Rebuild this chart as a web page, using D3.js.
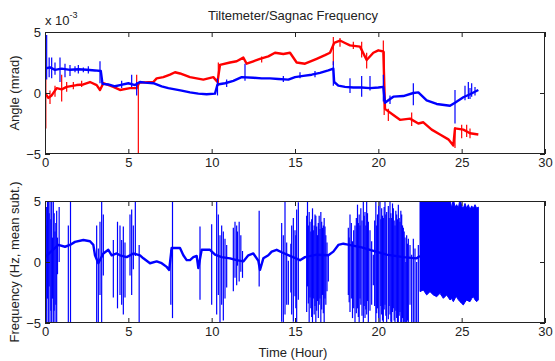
<!DOCTYPE html>
<html>
<head>
<meta charset="utf-8">
<script src="https://cdnjs.cloudflare.com/ajax/libs/d3/7.8.5/d3.min.js"></script>
<style>
  body { margin: 0; background: #fff; }
  svg { font-family: "Liberation Sans", Arial, sans-serif; }
</style>
</head>
<body>
<div id="chart"></div>
<script>
// tick values
const xTicks = [0, 5, 10, 15, 20, 25, 30];
const yTicks = [-5, 0, 5];

// top panel, angle in units of 1e-3 mrad: [hour, value]
const tiltBlue = [[0,2.0],[0.3,2.1],[0.6,1.9],[1.0,2.0],[1.5,1.9],[2.0,1.95],[2.5,1.9],[3.0,1.85],[3.35,1.8],[3.45,0.75],
  [3.8,0.7],[4.2,0.55],[4.5,0.65],[5.0,0.8],[5.4,0.65],[5.7,0.9],[6.0,0.85],[6.5,0.8],[7.0,0.55],[7.4,0.4],[7.8,0.3],
  [8.2,0.2],[8.7,0.05],[9.2,-0.05],[9.7,-0.1],[10.2,-0.05],[10.35,0.7],[10.8,0.8],[11.3,1.0],[11.8,1.3],[12.5,1.25],
  [13.0,1.2],[13.5,1.2],[14.0,1.15],[14.6,1.1],[15.0,1.3],[15.5,1.4],[16.0,1.5],[16.5,1.65],[17.0,1.85],[17.3,2.0],
  [17.35,0.9],[17.6,0.6],[18.0,0.5],[18.5,0.45],[19.0,0.45],[19.5,0.4],[20.0,0.45],[20.3,0.5],[20.4,-0.8],[20.6,-0.6],
  [20.9,-0.3],[21.5,-0.25],[22.1,0.0],[22.4,0.05],[22.9,-0.6],[23.5,-0.9],[24.3,-1.05],[24.6,-0.8],[25.1,-0.35],
  [25.5,-0.1],[26.0,0.25]];
// [hour, low, high]
const tiltBlueSpikes = [[0.1,1.1,4.75],[0.25,1.3,2.9],[0.4,1.2,2.9],[0.6,1.5,2.5],[0.9,0.9,2.9],[1.2,1.3,2.4],[1.5,1.4,2.3],
  [1.8,1.7,2.2],[2.0,1.6,2.3],[2.3,1.7,2.1],[2.6,1.6,2.2],[3.3,0.8,2.6],[4.6,0.4,1.0],[5.2,0.5,1.5],[5.5,-0.2,0.9],
  [10.35,-0.2,1.2],[10.9,0.5,1.1],[12.0,1.0,2.4],[14.3,0.9,1.4],[15.3,1.2,1.7],[16.2,1.3,1.8],
  [17.3,0.6,2.6],[18.3,0.0,1.2],[19.0,-0.3,1.4],[19.5,0.2,1.4],[20.3,-0.7,1.5],[20.7,-0.9,-0.2],[22.1,-1.0,0.8],
  [24.6,-2.5,0.25],[25.2,-0.6,0.6],[25.4,-0.5,0.9],[25.5,-0.5,0.4],[25.6,-0.3,0.8],[25.8,-0.2,0.5]];

const tiltRed = [[0,0.0],[0.2,-0.4],[0.4,-0.2],[0.7,0.4],[1.0,0.3],[1.3,0.5],[1.9,0.65],[2.3,0.7],[2.7,0.9],[3.1,0.65],
  [3.3,0.25],[3.5,0.8],[4.1,0.5],[4.5,0.25],[5.1,0.4],[5.5,0.4],[5.65,0.85],[6.5,0.9],[6.7,1.2],[7.1,1.3],[7.5,1.5],
  [7.8,1.7],[8.1,1.6],[8.7,1.3],[9.1,1.2],[9.5,1.1],[10.1,1.3],[10.35,0.9],[10.5,2.3],[11.1,2.5],[11.5,2.6],[11.9,2.9],
  [12.1,2.4],[12.5,2.6],[12.9,2.8],[13.4,3.0],[13.8,3.3],[14.3,3.2],[14.7,3.3],[15.1,2.5],[15.6,2.4],[16.3,2.8],
  [16.8,3.1],[17.1,3.3],[17.35,4.1],[17.7,4.3],[18.0,4.1],[18.3,3.9],[18.9,3.8],[19.3,2.7],[19.7,3.3],[20.0,3.5],
  [20.3,3.4],[20.4,-1.3],[20.9,-1.8],[21.3,-2.2],[21.9,-2.1],[22.4,-2.5],[22.7,-2.4],[23.2,-3.0],[23.7,-3.4],
  [24.2,-3.8],[24.5,-4.3],[24.6,-2.9],[25.1,-3.0],[25.5,-3.3],[26.0,-3.4]];
const tiltRedSpikes = [[0.05,-2.9,2.0],[0.3,-0.9,0.2],[0.6,-0.3,0.6],[1.0,-0.7,1.5],[1.3,0.1,0.9],[1.7,0.3,0.9],
  [2.2,0.5,1.0],[5.5,0.3,1.5],[5.6,-5.2,0.6],[10.4,0.6,2.5],[13.0,2.5,3.0],[17.3,2.3,4.6],[17.7,3.8,4.5],[18.5,3.6,4.2],
  [19.0,2.9,4.2],[19.3,2.0,3.3],[20.3,3.4,4.3],[20.35,-1.8,3.4],[20.6,-2.3,-1.3],[22.0,-2.7,-1.6],[24.6,-4.5,-2.8],
  [25.0,-3.7,-2.6],[25.3,-3.6,-2.6],[25.5,-3.7,-2.9]];

// bottom panel, frequency in Hz (mean subtracted)
const freqBase = [[0,0.4],[0.8,1.4],[1.2,1.25],[1.5,1.4],[1.8,1.65],[2.3,1.8],[2.7,1.7],[2.9,1.4],[3.0,0.55],[3.2,-0.1],
  [3.5,0.7],[3.8,1.0],[4.0,0.55],[4.3,0.7],[4.5,0.55],[4.9,0.4],[5.3,0.7],[5.7,0.55],[5.9,0.3],[6.3,-0.1],[6.7,0.05],
  [7.0,-0.1],[7.3,-0.4],[7.45,-0.65],[7.6,1.15],[8.1,1.15],[8.3,0.55],[8.5,0.15],[8.7,0.15],[8.9,0.4],[9.1,0.5],
  [9.2,-0.5],[9.4,1.0],[9.9,1.0],[10.2,0.6],[10.6,0.4],[11.1,0.3],[11.5,0.15],[11.9,0.05],[12.2,0.55],[12.5,0.7],
  [12.8,0.1],[12.9,-0.65],[13.1,0.3],[13.4,0.55],[13.6,0.85],[13.9,1.0],[14.2,0.8],[14.7,0.5],[15.3,0.15],[15.6,0.4],
  [16.3,0.6],[17.0,0.55],[17.3,0.85],[17.6,1.4],[17.9,1.5],[18.1,1.45],[19.0,1.2],[19.5,1.0],[20.5,0.6],[21.5,0.4],
  [22.3,0.3],[22.5,0.5]];
const freqSpikes = [
  [0.05,-4,3],[0.1,-5.2,4.5],[0.15,-3,5.2],[0.2,-5.2,5.2],[0.25,-2,4],[0.3,-5.2,5.2],[0.35,-4,3.5],[0.4,-5.2,5.2],
  [0.45,-3,2],[0.5,-5.2,5.2],[0.55,-4,4],[0.6,-5.2,2.5],[0.65,-3.5,3.2],[0.7,-5.2,4.2],[0.75,-1,2],[0.85,0,4.5],
  [1.4,-5.2,3],[1.53,-5.2,5.2],
  [3.1,-5.2,3],[3.2,-5.2,1.1],[3.3,-2.7,3.3],[3.4,-5.2,5.2],[3.5,-1.1,3.9],
  [4.1,-2.9,1.8],[4.35,-3.8,3.3],[4.5,-2.7,3.0],[4.6,-3.5,1.8],[4.7,-4.3,2.9],[4.8,-2.9,1.6],[5.1,-1.1,3.9],
  [5.2,-2.7,4.3],[5.3,-0.6,3.0],[5.42,0.5,5.2],[5.65,-5.2,1.4],
  [7.55,-3.5,1],[7.65,-4.6,5.2],
  [9.3,-3.1,2.9],[10.0,-3.5,3.1],
  [10.3,-4.3,5.2],[10.4,-2.7,3.9],[10.5,-5.2,2.2],[10.6,-3.5,3.0],[10.7,-4.8,2.5],[10.8,-3.0,1.9],[10.9,-2.1,1.4],
  [11.3,-2.4,2.8],[11.4,-1.3,3.3],[11.5,-1.9,3.0],[11.55,-0.3,2.5],[11.65,-1.6,3.3],[11.75,-0.8,2.2],[11.85,-1.3,0.9],
  [12.85,-2.0,4.2],
  [14.2,-4.9,3.2],[14.3,-5.2,2.2],[14.4,-4.3,5.2],[14.5,-3.5,1.6],[14.6,-3.5,0.1],[14.75,-2.5,1.5],[14.8,-4.3,3.0],
  [14.9,-4.9,3.6],[15.0,-2.8,2.6],[15.05,-3.8,2.2],[15.1,-5.2,4.3],[15.2,-3.1,4.9],
  [15.7,-4.1,3.8],[15.75,-2,5.2],[15.8,-3.4,3.0],[15.85,-5.2,4.1],[15.9,-2.9,3.3],[15.95,-3.8,2.5],[16.0,-4.5,3.5],
  [16.05,-5.2,4.4],[16.1,-3.0,2.6],[16.15,-4.3,3.0],[16.2,-3.6,3.9],[16.25,-5.2,3.8],[16.3,-4.0,2.9],[16.35,-3.2,2.2],
  [16.4,-4.6,3.2],[16.45,-3.5,3.8],[16.5,-3.0,2.7],[16.55,-5.2,4.1],[16.6,-3.9,3.3],[16.65,-2.7,2.8],[16.7,-4.2,3.0],
  [16.75,-5.2,3.6],[16.8,-3.0,2.9],[16.85,-3.5,2.2],[16.92,-2.4,1.6],[17.0,-1.6,0.6],
  [18.2,-2.7,2.8],[18.25,-3.3,2.0],[18.3,-4.1,3.9],[18.38,-3.0,3.2],[18.45,-4.6,1.7],[18.52,-3.8,2.6],[18.6,-5.2,3.0],
  [18.68,-4.2,3.6],[18.75,-3.8,4.7],[18.8,-4.5,3.2],[18.85,-5.2,3.9],[18.9,-3.0,3.0],[18.95,-3.5,4.4],[19.02,-4.4,3.4],
  [19.1,-5.2,5.2],[19.15,-3.6,3.8],[19.2,-4.6,4.1],[19.25,-3.9,3.0],[19.3,-4.3,5.2],[19.35,-3.2,4.0],[19.4,-5.2,3.3],
  [19.5,-4.0,2.6],[19.6,-3.5,1.7],[19.7,-1.9,0.6],[19.78,-3.6,3.4],[19.85,-5.2,5.2],[19.9,-4.2,3.0],[19.95,-3.8,3.9],
  [20.02,-4.6,4.6],[20.1,-5.2,5.2],[20.15,-3.6,3.5],[20.2,-4.3,4.4],[20.25,-4.8,3.8],[20.3,-5.2,3.6],[20.35,-3.9,4.5],
  [20.4,-3.5,5.2],[20.45,-4.4,3.9],[20.5,-5.2,4.1],[20.6,-4.7,4.6],[20.65,-3.6,3.6],[20.7,-4.3,5.2],[20.75,-4.9,4.0],
  [20.8,-5.2,3.6],[20.85,-4.1,4.8],[20.9,-3.8,4.4],[20.95,-4.8,3.4],[21.0,-5.2,3.0],[21.05,-4.0,4.2],[21.1,-4.6,3.9],
  [21.15,-5.0,3.5],[21.2,-5.2,4.7],[21.25,-4.4,3.6],[21.3,-4.1,3.3],[21.35,-5.0,4.2],[21.4,-5.2,3.9],[21.45,-4.6,3.0],
  [21.5,-5.2,2.8],[21.55,-4.9,2.5],[21.6,-5.2,2.0],[21.65,-5.2,0.0],[21.7,-5.2,2.2],[21.75,-4.8,1.5],[21.8,-5.2,1.9],
  [21.9,-3.5,1.4],[22.0,-5.2,0.6],[22.1,-5.2,1.9],[22.2,-5.2,1.1],[22.3,-5.2,0.0],[22.4,-5.2,1.4]];
// dense oscillation at the end: [hour, low, high]
const freqBand = [[22.5,-2.43,5.2],[22.7,-2.29,5.2],[22.9,-2.7,5.2],[23.1,-2.43,5.2],[23.3,-2.7,5.2],[23.5,-2.84,5.2],
  [23.7,-2.57,5.2],[23.9,-2.98,5.2],[24.1,-2.7,5.2],[24.3,-3.11,5.2],[24.4,-3.0,4.4],[24.5,-3.25,5.2],[24.6,-3.0,4.5],
  [24.7,-2.84,4.7],[24.8,-3.1,4.4],[24.9,-3.25,5.2],[25.0,-3.4,4.6],[25.1,-3.52,4.4],[25.2,-3.3,4.8],[25.3,-3.11,4.4],
  [25.4,-3.2,4.7],[25.5,-3.25,4.3],[25.6,-3.0,4.6],[25.7,-2.84,4.4],[25.8,-3.1,4.7],[25.9,-3.25,4.4],[26.0,-3.11,4.5]];

const W = 555, H = 361;
const left = 45, right = 545;
const fs = '13px';

const svg = d3.select('#chart').append('svg')
  .attr('width', W).attr('height', H);

const x = d3.scaleLinear().domain([0, 30]).range([left, right]);

function panel(id, top, bottom) {
  const y = d3.scaleLinear().domain([-5, 5]).range([bottom, top]);
  svg.append('clipPath').attr('id', id)
    .append('rect').attr('x', left).attr('y', top)
    .attr('width', right - left).attr('height', bottom - top);
  const g = svg.append('g').attr('clip-path', `url(#${id})`);
  return { y, g, top, bottom };
}

function frame(p) {
  const tick = 5;
  const ax = (gen, tx, ty, labels) => {
    const a = svg.append('g').attr('transform', `translate(${tx},${ty})`)
      .call(gen.tickSize(-tick).tickSizeOuter(0).tickPadding(4));
    a.select('.domain').remove();
    a.selectAll('line').attr('stroke', '#222');
    a.selectAll('text').style('font-size', fs).attr('fill', '#222');
    if (!labels) a.selectAll('text').remove();
  };
  ax(d3.axisBottom(x).tickValues(xTicks), 0, p.bottom, true);
  ax(d3.axisTop(x).tickValues(xTicks), 0, p.top, false);
  ax(d3.axisLeft(p.y).tickValues(yTicks), left, 0, true);
  ax(d3.axisRight(p.y).tickValues(yTicks), right, 0, false);
  svg.append('rect')
    .attr('x', left + 0.5).attr('y', p.top + 0.5)
    .attr('width', right - left - 1).attr('height', p.bottom - p.top - 1)
    .attr('fill', 'none').attr('stroke', '#222');
}

function spikes(p, data, color, w) {
  p.g.selectAll(null).data(data).enter().append('line')
    .attr('x1', d => x(d[0])).attr('x2', d => x(d[0]))
    .attr('y1', d => p.y(d[1])).attr('y2', d => p.y(d[2]))
    .attr('stroke', color).attr('stroke-width', w);
}

function trace(p, data, color, w) {
  const line = d3.line().x(d => x(d[0])).y(d => p.y(d[1]));
  p.g.append('path').datum(data)
    .attr('d', line).attr('fill', 'none')
    .attr('stroke', color).attr('stroke-width', w)
    .attr('stroke-linejoin', 'round');
}

// top panel
const p1 = panel('clip1', 32, 154);
trace(p1, tiltRed, '#ff0000', 2.4);
spikes(p1, tiltRedSpikes, '#ff0000', 1.2);
trace(p1, tiltBlue, '#0000ff', 2.4);
spikes(p1, tiltBlueSpikes, '#0000ff', 1.2);
frame(p1);

// bottom panel
const p2 = panel('clip2', 201, 323);
const band = d3.area().x(d => x(d[0])).y0(d => p2.y(d[1])).y1(d => p2.y(d[2]));
p2.g.append('path').datum(freqBand).attr('d', band)
  .attr('fill', '#0000ff').attr('stroke', '#0000ff').attr('stroke-width', 1);
spikes(p2, freqSpikes, '#0000ff', 1.2);
trace(p2, freqBase, '#0000ff', 2.4);
frame(p2);

// texts
svg.append('text').attr('x', 293).attr('y', 20).attr('text-anchor', 'middle')
  .style('font-size', fs).attr('fill', '#222').text('Tiltemeter/Sagnac Frequency');

const mult = svg.append('text').attr('x', 45).attr('y', 25)
  .style('font-size', fs).attr('fill', '#222');
mult.append('tspan').text('x 10');
mult.append('tspan').attr('dy', -7).style('font-size', '9px').text('-3');

svg.append('text').attr('transform', 'translate(19,93) rotate(-90)')
  .attr('text-anchor', 'middle').style('font-size', fs).attr('fill', '#222')
  .text('Angle (mrad)');
svg.append('text').attr('transform', 'translate(19,262) rotate(-90)')
  .attr('text-anchor', 'middle').style('font-size', fs).attr('fill', '#222')
  .text('Frequency (Hz, mean subt.)');
svg.append('text').attr('x', 293).attr('y', 357).attr('text-anchor', 'middle')
  .style('font-size', fs).attr('fill', '#222').text('Time (Hour)');
</script>
</body>
</html>
